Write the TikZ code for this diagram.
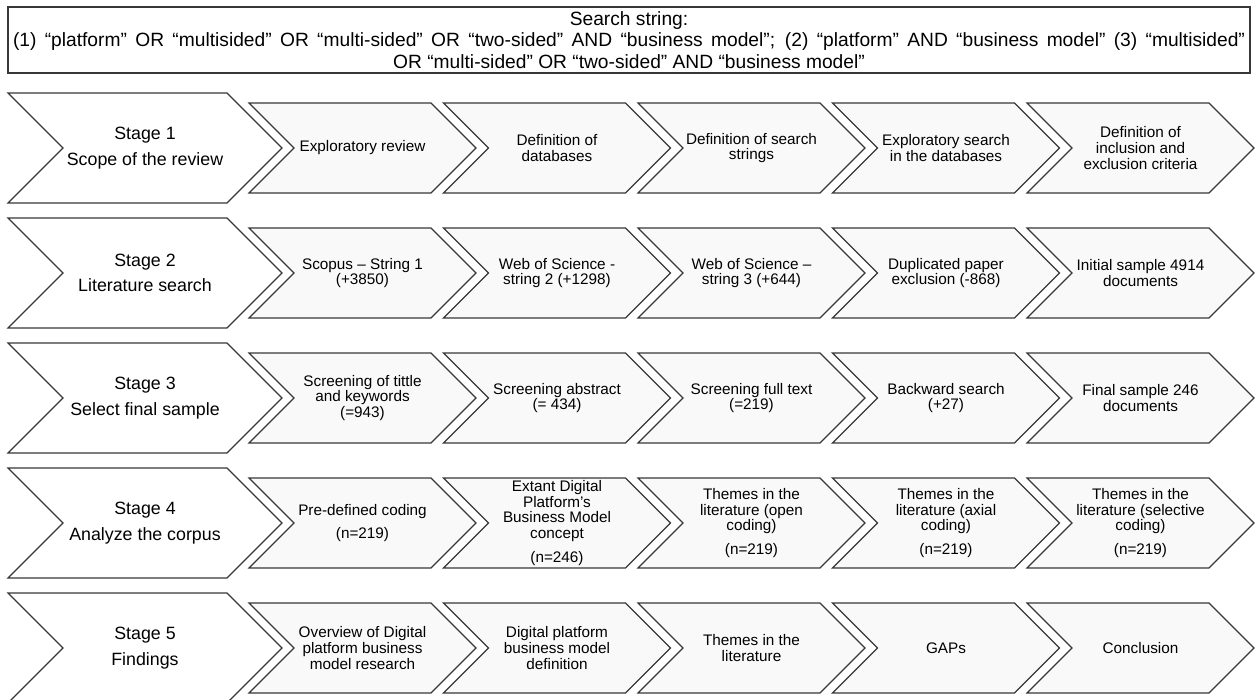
\documentclass[tikz,border=0pt]{standalone}
\usepackage{fontspec}
\setmainfont{Liberation Sans}
\usetikzlibrary{calc}

% Chevron outline: #1 notch x, #2 tip x, #3 centre y, #4 half height, #5 style
\newcommand\chevronpath[5]{%
  \draw[#5] ({#1-#4},{#3-#4}) -- ({#2-#4},{#3-#4}) -- (#2,#3)
    -- ({#2-#4},{#3+#4}) -- ({#1-#4},{#3+#4}) -- (#1,#3) -- cycle;}

\tikzset{
  outline/.style={draw=black!78, line width=1.1pt, line join=miter},
  stagebox/.style={outline, fill=white},
  stepbox/.style={outline, fill=black!2.5},
  stagetext/.style={align=center, font=\fontsize{17.8}{25.5}\selectfont, inner sep=0pt},
  steptext/.style={align=center, font=\fontsize{15.3}{15.6}\selectfont, inner sep=0pt},
  headtext/.style={align=center, font=\fontsize{19.2}{21.8}\selectfont, inner sep=0pt},
}

\begin{document}
\begin{tikzpicture}[x=1pt, y=-1pt]
\useasboundingbox (0,0) rectangle (1255,700);

% search string box
\draw[outline, line width=1.3pt] (8,7) rectangle (1250,73);
\node[headtext] (search) at (629,40) {Search string:\\
\makebox[1232pt][s]{(1) “platform” OR “multisided” OR “multi-sided” OR “two-sided” AND “business model”; (2) “platform” AND “business model” (3) “multisided”}\\
OR “multi-sided” OR “two-sided” AND “business model”};

% stage rows
\foreach \r/\y/\sa/\sb in {1/148/Stage 1/Scope of the review,
                           2/273/Stage 2/Literature search,
                           3/398/Stage 3/Select final sample,
                           4/523/Stage 4/Analyze the corpus,
                           5/648/Stage 5/Findings}{
  \chevronpath{63}{282}{\y}{55}{stagebox}
  \node[stagetext] (stage\r) at (145,\y) {\sa\\\sb};
  \foreach \c in {1,...,5}{
    \pgfmathsetmacro\nx{294+194.5*(\c-1)}
    \pgfmathsetmacro\tx{\nx+182}
    \chevronpath{\nx}{\tx}{\y}{45}{stepbox}
    \coordinate (pos\r\c) at ({(\nx+\tx-45)/2},\y);
  }
}

% row 1
\node[steptext] (s11) at (pos11) {Exploratory review};
\node[steptext] (s12) at (pos12) {Definition of\\databases};
\node[steptext] (s13) at (pos13) {Definition of search\\strings};
\node[steptext] (s14) at (pos14) {Exploratory search\\in the databases};
\node[steptext] (s15) at (pos15) {Definition of\\inclusion and\\exclusion criteria};

% row 2
\node[steptext] (s21) at (pos21) {Scopus – String 1\\(+3850)};
\node[steptext] (s22) at (pos22) {Web of Science -\\string 2 (+1298)};
\node[steptext] (s23) at (pos23) {Web of Science –\\string 3 (+644)};
\node[steptext] (s24) at (pos24) {Duplicated paper\\exclusion (-868)};
\node[steptext] (s25) at (pos25) {Initial sample 4914\\documents};

% row 3
\node[steptext] (s31) at (pos31) {Screening of tittle\\and keywords\\(=943)};
\node[steptext] (s32) at (pos32) {Screening abstract\\(= 434)};
\node[steptext] (s33) at (pos33) {Screening full text\\(=219)};
\node[steptext] (s34) at (pos34) {Backward search\\(+27)};
\node[steptext] (s35) at (pos35) {Final sample 246\\documents};

% row 4
\node[steptext] (s41) at (pos41) {Pre-defined coding\\[8pt](n=219)};
\node[steptext] (s42) at (pos42) {Extant Digital\\Platform’s\\Business Model\\concept\\[8pt](n=246)};
\node[steptext] (s43) at (pos43) {Themes in the\\literature (open\\coding)\\[8pt](n=219)};
\node[steptext] (s44) at (pos44) {Themes in the\\literature (axial\\coding)\\[8pt](n=219)};
\node[steptext] (s45) at (pos45) {Themes in the\\literature (selective\\coding)\\[8pt](n=219)};

% row 5
\node[steptext] (s51) at (pos51) {Overview of Digital\\platform business\\model research};
\node[steptext] (s52) at (pos52) {Digital platform\\business model\\definition};
\node[steptext] (s53) at (pos53) {Themes in the\\literature};
\node[steptext] (s54) at (pos54) {GAPs};
\node[steptext] (s55) at (pos55) {Conclusion};
\end{tikzpicture}
\end{document}
